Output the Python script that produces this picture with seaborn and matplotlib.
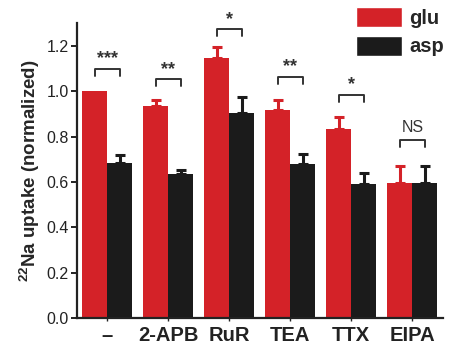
import pandas as pd
import numpy as np
import matplotlib.pyplot as plt
import seaborn as sns
from matplotlib.patches import Patch

sns.set_style("ticks")
plt.rcParams['font.family'] = ['Liberation Sans', 'DejaVu Sans']
plt.rcParams['mathtext.fontset'] = 'custom'
plt.rcParams['mathtext.rm'] = 'Liberation Sans:bold'
plt.rcParams['mathtext.bf'] = 'Liberation Sans:bold'

treatments = ["\u2013", "2-APB", "RuR", "TEA", "TTX", "EIPA"]
glu = [1.00, 0.933, 1.148, 0.918, 0.834, 0.597]
glu_err = [0.0, 0.028, 0.048, 0.045, 0.053, 0.072]
asp = [0.683, 0.636, 0.905, 0.680, 0.590, 0.597]
asp_err = [0.034, 0.016, 0.070, 0.044, 0.050, 0.075]
sig_labels = ["***", "**", "*", "**", "*", "NS"]
sig_heights = [1.100, 1.055, 1.275, 1.064, 0.985, 0.786]

RED = "#d42228"
BLACK = "#1b1b1b"

df = pd.DataFrame({
    "treatment": treatments * 2,
    "solution": ["glu"] * 6 + ["asp"] * 6,
    "uptake": glu + asp,
})

fig = plt.figure(figsize=(4.51, 3.44), dpi=100)
ax = fig.add_axes([0.171, 0.0756, 0.811, 0.857])

sns.barplot(data=df, x="treatment", y="uptake", hue="solution",
            palette={"glu": RED, "asp": BLACK}, width=0.82, gap=0,
            saturation=1, errorbar=None, legend=False, ax=ax,
            edgecolor="none")

# one-sided error bars on top of each bar
for cont, vals, errs, col in [(ax.containers[0], glu, glu_err, RED),
                              (ax.containers[1], asp, asp_err, BLACK)]:
    xs = np.array([b.get_x() + b.get_width() / 2 for b in cont])
    v = np.array(vals)
    e = np.array(errs)
    m = e > 0
    ax.errorbar(xs[m], v[m], yerr=[np.zeros(m.sum()), e[m]], fmt="none",
                ecolor=col, elinewidth=2.2, capsize=3.3, capthick=2.2)

# significance brackets
glu_x = [b.get_x() + b.get_width() / 2 for b in ax.containers[0]]
asp_x = [b.get_x() + b.get_width() / 2 for b in ax.containers[1]]
for x1, x2, h, lab in zip(glu_x, asp_x, sig_heights, sig_labels):
    ax.plot([x1, x1, x2, x2], [h - 0.031, h, h, h - 0.031], color="#333333",
            lw=1.4, clip_on=False)
    if lab == "NS":
        ax.text((x1 + x2) / 2, h + 0.02, lab, ha="center", va="bottom",
                fontsize=11.5, color="#333333")
    else:
        ax.text((x1 + x2) / 2, h + 0.005, lab, ha="center", va="bottom",
                fontsize=13, fontweight="bold", color="#333333")

ax.set_ylim(0, 1.30)
ax.set_xlim(-0.49, 5.5)
ax.set_yticks([0.0, 0.2, 0.4, 0.6, 0.8, 1.0, 1.2])
ax.set_yticklabels(["0.0", "0.2", "0.4", "0.6", "0.8", "1.0", "1.2"], fontsize=11.5)
ax.set_xticks(range(6))
ax.set_xticklabels(treatments, fontsize=14.5, fontweight="bold")
ax.tick_params(axis="y", length=4, width=1.4, pad=2, colors="#222222")
ax.tick_params(axis="x", length=2, width=1, pad=4, colors="#222222")
ax.set_xlabel("")
ax.set_ylabel(r"$^{22}$Na uptake (normalized)", fontsize=13.5,
              fontweight="bold", labelpad=3)
sns.despine(ax=ax)
for s in ["left", "bottom"]:
    ax.spines[s].set_linewidth(1.6)
    ax.spines[s].set_color("#222222")

handles = [Patch(facecolor=RED, label="glu"), Patch(facecolor=BLACK, label="asp")]
fig.legend(handles=handles, loc="upper right", bbox_to_anchor=(0.995, 0.995),
           frameon=False, prop={"weight": "bold", "size": 14.5},
           handlelength=2.3, handleheight=1.15, handletextpad=0.35,
           labelspacing=0.4, borderaxespad=0.0, borderpad=0.25)

fig.savefig("out.png", dpi=100)
